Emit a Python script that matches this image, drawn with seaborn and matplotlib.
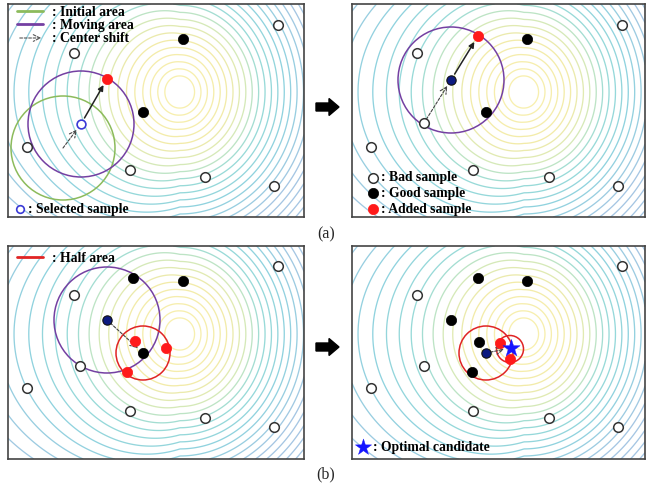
import numpy as np
import pandas as pd
import matplotlib
matplotlib.use("Agg")
import matplotlib.pyplot as plt
from matplotlib.colors import LinearSegmentedColormap, Normalize
from matplotlib.patches import Circle, FancyArrow
import seaborn as sns

sns.set_theme(style="white")
plt.rcParams["font.family"] = ["Liberation Serif", "DejaVu Serif"]

FIG_W, FIG_H = 646, 487

# sample positions, in pixels inside each panel (x right, y down)
# panel (a) left
BAD_A1 = [(66, 49), (270, 21), (19, 143), (122, 166), (197, 173), (266, 182)]
GOOD_A1 = [(175, 35), (135, 108)]
ADDED_A1 = [(99, 75)]
SELECTED_A1 = [(73, 120)]
INITIAL_A1 = (55, 144, 52)   # centre x, centre y, radius
MOVING_A1 = (73, 120, 53)

# panel (a) right
BAD_A2 = [(65, 49), (270, 21), (72, 119), (19, 143), (121, 166), (197, 173), (266, 182)]
GOOD_A2 = [(175, 35), (134, 108)]
CENTER_A2 = [(99, 76)]
ADDED_A2 = [(126, 32)]
MOVING_A2 = (99, 76, 53)

# panel (b) left
BAD_B1 = [(66, 49), (270, 20), (72, 120), (19, 142), (122, 165), (197, 172), (266, 181)]
GOOD_B1 = [(125, 32), (175, 35), (135, 107)]
CENTER_B1 = [(99, 74)]
ADDED_B1 = [(127, 95), (158, 102), (119, 126)]
MOVING_B1 = (99, 74, 53)
HALF_B1 = (135, 107, 27)

# panel (b) right
BAD_B2 = [(65, 49), (270, 20), (72, 120), (19, 142), (121, 165), (197, 172), (266, 181)]
GOOD_B2 = [(126, 32), (175, 35), (99, 74), (127, 96), (120, 126)]
CENTER_B2 = [(134, 107)]
ADDED_B2 = [(148, 97), (158, 113)]
OPTIMAL_B2 = [(159, 102)]
HALF_B2 = (134, 107, 27)
SMALL_B2 = (158, 103, 13.5)

# objective landscape (peak position inside a panel)
PEAK = (172, 88)
LEVELS = np.arange(15, 168, 6.6)

contour_cmap = LinearSegmentedColormap.from_list(
    "field",
    [(0.0, "#f7eea6"), (0.28, "#f1e9a0"), (0.42, "#d3e7b0"),
     (0.55, "#8fd8d3"), (0.75, "#84cedb"), (1.0, "#9cc0e0")],
)


def draw_field(ax, width, height):
    xs = np.linspace(0, width, 300)
    ys = np.linspace(0, height, 220)
    X, Y = np.meshgrid(xs, ys)
    dx = X - PEAK[0]
    left = np.clip(-dx, 0, 220)
    # flatter, more upright slope on the left side
    dye = (Y - PEAK[1]) / (1.07 + 0.003 * left)
    dxe = np.where(dx < 0, -1.03 * 190 * (1 - np.exp(-left / 190)), dx * 1.03)
    rho = np.sqrt(dxe ** 2 + dye ** 2)
    ax.contour(X, Y, rho, levels=LEVELS, cmap=contour_cmap,
               norm=Normalize(15, 140), linewidths=0.95, alpha=0.9, zorder=1)


def dots(ax, pts, **kw):
    df = pd.DataFrame(pts, columns=["x", "y"])
    sns.scatterplot(data=df, x="x", y="y", ax=ax, legend=False, zorder=5, **kw)


def bad(ax, pts):
    dots(ax, pts, s=48, color="white", edgecolor="#333333", linewidth=1.1)


def good(ax, pts):
    dots(ax, pts, s=55, color="black", edgecolor="black", linewidth=0.5)


def added(ax, pts):
    dots(ax, pts, s=55, color="#ff1a1a", edgecolor="#ff1a1a", linewidth=0.5)


def center(ax, pts):
    dots(ax, pts, s=45, color="#0c1a80", edgecolor="#111111", linewidth=0.8)


def ring(ax, spec, color):
    cx, cy, r = spec
    ax.add_patch(Circle((cx, cy), r, fill=False, edgecolor=color, lw=1.1, zorder=3))


def shift(ax, start, end, dashed=True):
    if dashed:
        props = dict(arrowstyle="->", linestyle=(0, (2.5, 1.5)), color="#444444",
                     lw=0.8, shrinkA=0, shrinkB=5)
    else:
        props = dict(arrowstyle="-|>", color="#222222", lw=1.1,
                     mutation_scale=8, shrinkA=5, shrinkB=5)
    ax.annotate("", xy=end, xytext=start, arrowprops=props, zorder=4)


def label(ax, x, y, text):
    ax.text(x, y, text, fontsize=9.8, fontweight="bold", va="center", ha="left",
            color="black", zorder=6)


fig = plt.figure(figsize=(FIG_W / 100, FIG_H / 100), dpi=100)

# overlay in figure pixels for arrows between panels and captions
over = fig.add_axes([0, 0, 1, 1])
over.set_xlim(0, FIG_W)
over.set_ylim(FIG_H, 0)
over.axis("off")
over.patch.set_alpha(0)


def panel(left, top, width, height):
    ax = fig.add_axes([left / FIG_W, 1 - (top + height) / FIG_H,
                       width / FIG_W, height / FIG_H])
    ax.set_xlim(0, width)
    ax.set_ylim(height, 0)
    ax.set_xticks([])
    ax.set_yticks([])
    ax.set_xlabel("")
    ax.set_ylabel("")
    for sp in ax.spines.values():
        sp.set_color("#444444")
        sp.set_linewidth(1.2)
    draw_field(ax, width, height)
    return ax


# (a) left
ax = panel(8, 4, 296, 213)
ring(ax, INITIAL_A1, "#8cbb5c")
ring(ax, MOVING_A1, "#7440a2")
shift(ax, INITIAL_A1[:2], SELECTED_A1[0])
shift(ax, SELECTED_A1[0], ADDED_A1[0], dashed=False)
bad(ax, BAD_A1)
good(ax, GOOD_A1)
added(ax, ADDED_A1)
dots(ax, SELECTED_A1, s=40, color="white", edgecolor="#3a3ad6", linewidth=1.2)
ax.plot([9, 35], [7, 7], color="#8cbb5c", lw=2, zorder=6)
ax.plot([9, 35], [20, 20], color="#7440a2", lw=2, zorder=6)
ax.annotate("", xy=(36, 34), xytext=(9, 34),
            arrowprops=dict(arrowstyle="->", linestyle=(0, (2.5, 1.5)),
                            color="#555555", lw=0.8), zorder=6)
label(ax, 44, 8, ": Initial area")
label(ax, 44, 21, ": Moving area")
label(ax, 44, 34, ": Center shift")
dots(ax, [(12, 205)], s=30, color="white", edgecolor="#3a3ad6", linewidth=1.2)
label(ax, 20, 205, ": Selected sample")

# (a) right
ax = panel(352, 4, 293, 213)
ring(ax, MOVING_A2, "#7440a2")
shift(ax, BAD_A2[2], CENTER_A2[0])
shift(ax, CENTER_A2[0], ADDED_A2[0], dashed=False)
bad(ax, BAD_A2)
good(ax, GOOD_A2)
center(ax, CENTER_A2)
added(ax, ADDED_A2)
bad(ax, [(21, 174)])
good(ax, [(21, 189)])
added(ax, [(21, 205)])
label(ax, 29, 174, ": Bad sample")
label(ax, 29, 189, ": Good sample")
label(ax, 29, 205, ": Added sample")

# (b) left
ax = panel(8, 246, 296, 213)
ring(ax, MOVING_B1, "#7440a2")
ring(ax, HALF_B1, "#e02424")
shift(ax, CENTER_B1[0], HALF_B1[:2])
bad(ax, BAD_B1)
good(ax, GOOD_B1)
center(ax, CENTER_B1)
added(ax, ADDED_B1)
ax.plot([9, 35], [11, 11], color="#e02424", lw=2, zorder=6)
label(ax, 44, 13, ": Half area")

# (b) right
ax = panel(352, 246, 293, 213)
ring(ax, HALF_B2, "#e02424")
ring(ax, SMALL_B2, "#e02424")
shift(ax, CENTER_B2[0], OPTIMAL_B2[0])
bad(ax, BAD_B2)
good(ax, GOOD_B2)
center(ax, CENTER_B2)
added(ax, ADDED_B2)
dots(ax, OPTIMAL_B2, s=170, marker="*", color="#1515ff", edgecolor="#1515ff",
     linewidth=0.3)
dots(ax, [(11, 201)], s=150, marker="*", color="#1515ff", edgecolor="#1515ff",
     linewidth=0.3)
label(ax, 21, 201, ": Optimal candidate")

# arrows between panels and captions
for yc in (107, 347):
    over.add_patch(FancyArrow(316, yc, 23, 0, width=8, head_width=17,
                              head_length=10, length_includes_head=True,
                              color="black"))
over.text(326, 234, "(a)", fontsize=11.5, ha="center", va="center")
over.text(326, 474, "(b)", fontsize=11.5, ha="center", va="center")

fig.savefig("out.png", dpi=100)
